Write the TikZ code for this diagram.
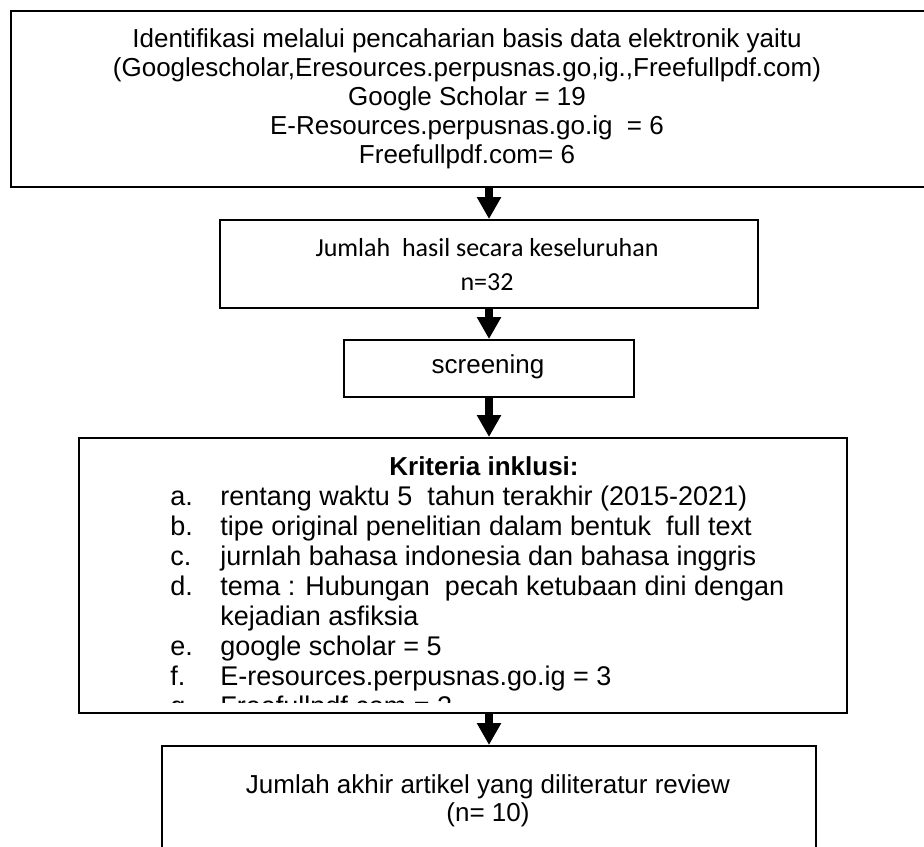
\documentclass[tikz,border=0pt]{standalone}
\usepackage{fontspec}
\setmainfont{Liberation Sans}
\newfontfamily\calib{Carlito}
\usetikzlibrary{arrows.meta}
\begin{document}
\begin{tikzpicture}[x=0.5pt,y=-0.5pt,
  box/.style={draw, line width=1pt, inner sep=0pt, anchor=north west},
  arr/.style={line width=4pt, -{Triangle[width=11.5pt,length=11pt]}},
  txt/.style={inner sep=0pt, font=\fontsize{13pt}{14.5pt}\selectfont, align=center},
  crit/.style={inner sep=0pt, anchor=base west, font=\fontsize{13.5pt}{15pt}\selectfont},
  ]
\useasboundingbox (0,0) rectangle (924,846);
% boxes
\node[box, minimum width=470pt, minimum height=88pt] (top) at (10,10) {};
\node[box, minimum width=269pt, minimum height=44pt] (jml) at (219,219) {};
\node[box, minimum width=145pt, minimum height=28.5pt] (scr) at (343,339) {};
\node[box, minimum width=384pt, minimum height=137.5pt] (krit) at (78,437) {};
\node[box, minimum width=327pt, minimum height=60pt] (akhir) at (161,745) {};
% texts
\node[txt] (toptext) at (467,99) {Identifikasi melalui pencaharian basis data elektronik yaitu\\
(Googlescholar,Eresources.perpusnas.go,ig.,Freefullpdf.com)\\
Google Scholar = 19\\
E-Resources.perpusnas.go.ig\ \ = 6\\
Freefullpdf.com= 6};
\node[txt, font=\calib\fontsize{13pt}{17pt}\selectfont] (jmltext) at (487,265) {Jumlah\ \ hasil secara keseluruhan\\ n=32};
\node[txt] (scrtext) at (488,367) {screening};
\node[txt, font=\bfseries\fontsize{13pt}{14.5pt}\selectfont] (krittitle) at (484,466) {Kriteria inklusi:};
\node[crit] (la) at (170,505) {a.};
\node[crit] (ta) at (220,505) {rentang waktu 5\ \ tahun terakhir (2015-2021)};
\node[crit] (lb) at (170,535) {b.};
\node[crit] (tb) at (220,535) {tipe original penelitian dalam bentuk\ \ full text};
\node[crit] (lc) at (170,565) {c.};
\node[crit] (tc) at (220,565) {jurnlah bahasa indonesia dan bahasa inggris};
\node[crit] (ld) at (170,595) {d.};
\node[crit] (td) at (220,595) {tema : Hubungan\ \ pecah ketubaan dini dengan};
\node[crit] (td2) at (220,625) {kejadian asfiksia};
\node[crit] (le) at (170,655) {e.};
\node[crit] (te) at (220,655) {google scholar = 5};
\node[crit] (lf) at (170,685) {f.};
\node[crit] (tf) at (220,685) {E-resources.perpusnas.go.ig = 3};
\begin{scope}
\clip (0,650) rectangle (924,702);
\node[crit] (lg) at (170,715) {g.};
\node[crit] (tg) at (220,715) {Freefullpdf.com = 2};
\end{scope}
\node[txt, font=\fontsize{13pt}{14pt}\selectfont] (akhirtext) at (488,801) {Jumlah akhir artikel yang diliteratur review\\ (n= 10)};
% arrows
\coordinate (ax) at (489,0);
\draw[arr] (top.south -| ax) -- (jml.north -| ax);
\draw[arr] (jml.south -| ax) -- (scr.north -| ax);
\draw[arr] (scr.south -| ax) -- (krit.north -| ax);
\draw[arr] (krit.south -| ax) -- (akhir.north -| ax);
\end{tikzpicture}
\end{document}
